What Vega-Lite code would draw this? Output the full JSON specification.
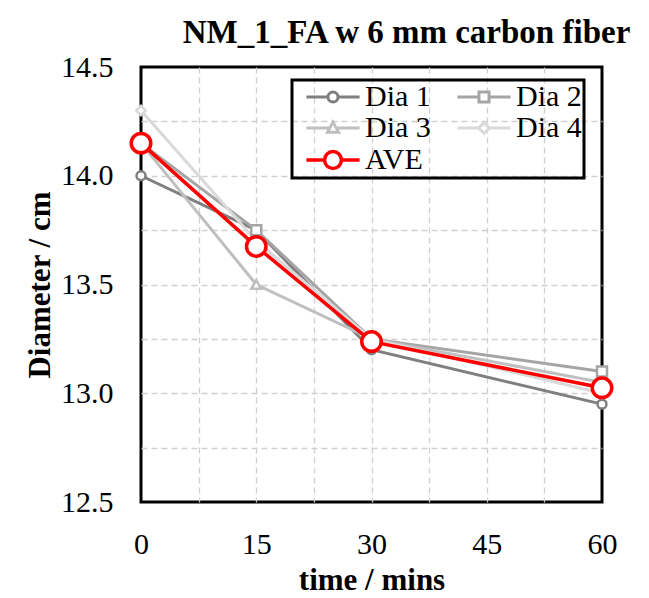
{
  "$schema": "https://vega.github.io/schema/vega-lite/v6.json",
  "autosize": "none",
  "width": 461,
  "height": 435,
  "padding": {"left": 141, "top": 67, "right": 47, "bottom": 96},
  "background": "white",
  "title": {"text": "NM_1_FA w 6 mm carbon fiber", "font": "Liberation Serif", "fontSize": 33, "fontWeight": "bold", "color": "black", "anchor": "middle", "dx": 35, "offset": 2},
  "config": {
    "view": {"stroke": "black", "strokeWidth": 3},
    "axis": {"labelFont": "Liberation Serif", "labelFontSize": 30, "labelColor": "black", "titleFont": "Liberation Serif", "titleFontSize": 31, "titleFontWeight": "bold", "titleColor": "black", "domain": false, "ticks": false, "tickSize": 0, "grid": true, "gridColor": "#d0d0d0", "gridDash": [6, 4], "gridWidth": 1.3, "labelOverlap": false, "labelFlush": false}
  },
  "data": {"values": [
    {"t": 0, "dia": 14.0, "series": "Dia 1"},
    {"t": 15, "dia": 13.75, "series": "Dia 1"},
    {"t": 30, "dia": 13.2, "series": "Dia 1"},
    {"t": 60, "dia": 12.95, "series": "Dia 1"},
    {"t": 0, "dia": 14.15, "series": "Dia 2"},
    {"t": 15, "dia": 13.75, "series": "Dia 2"},
    {"t": 30, "dia": 13.25, "series": "Dia 2"},
    {"t": 60, "dia": 13.1, "series": "Dia 2"},
    {"t": 0, "dia": 14.15, "series": "Dia 3"},
    {"t": 15, "dia": 13.5, "series": "Dia 3"},
    {"t": 30, "dia": 13.25, "series": "Dia 3"},
    {"t": 60, "dia": 13.05, "series": "Dia 3"},
    {"t": 0, "dia": 14.3, "series": "Dia 4"},
    {"t": 15, "dia": 13.7, "series": "Dia 4"},
    {"t": 30, "dia": 13.25, "series": "Dia 4"},
    {"t": 60, "dia": 13.0, "series": "Dia 4"},
    {"t": 0, "dia": 14.15, "series": "AVE"},
    {"t": 15, "dia": 13.675, "series": "AVE"},
    {"t": 30, "dia": 13.2375, "series": "AVE"},
    {"t": 60, "dia": 13.025, "series": "AVE"}
  ]},
  "encoding": {
    "x": {"field": "t", "type": "quantitative", "scale": {"domain": [0, 60], "nice": false, "zero": false},
      "axis": {"title": "time / mins", "values": [0, 7.5, 15, 22.5, 30, 37.5, 45, 52.5, 60], "labelExpr": "datum.value % 15 === 0 ? datum.label : ''", "labelPadding": 27, "titlePadding": 6,
        "gridOpacity": {"condition": {"test": "datum.value === 0 || datum.value === 60", "value": 0}, "value": 1}}},
    "y": {"field": "dia", "type": "quantitative", "scale": {"domain": [12.5, 14.5], "nice": false, "zero": false},
      "axis": {"title": "Diameter / cm", "values": [12.5, 12.75, 13, 13.25, 13.5, 13.75, 14, 14.25, 14.5], "labelExpr": "abs(datum.value*2 - round(datum.value*2)) < 0.001 ? format(datum.value, '.1f') : ''", "labelPadding": 28, "titlePadding": 4,
        "gridOpacity": {"condition": {"test": "datum.value === 12.5 || datum.value === 14.5", "value": 0}, "value": 1}}},
    "stroke": {"field": "series", "type": "nominal",
      "scale": {"domain": ["Dia 1", "Dia 2", "Dia 3", "Dia 4", "AVE"], "range": ["#7f7f7f", "#a5a5a5", "#bfbfbf", "#d9d9d9", "#ff0000"]},
      "legend": {"title": null, "orient": "none", "legendX": 151, "legendY": 13, "columns": 2, "direction": "horizontal", "padding": 2, "strokeColor": "black", "symbolSize": 784, "symbolStrokeWidth": 3, "symbolOffset": 24, "labelOffset": 17, "labelFont": "Liberation Serif", "labelFontSize": 30, "labelColor": "black", "columnPadding": 14, "rowPadding": 1, "symbolFillColor": "white",
        "encode": {
          "legend": {"update": {"strokeWidth": {"value": 3}}},
          "symbols": {"update": {
            "shape": {"signal": "datum.value === 'Dia 1' ? 'M-1.9,0H-0.36M0.36,0H1.9M-0.36,0A0.36,0.36,0,1,1,0.36,0A0.36,0.36,0,1,1,-0.36,0Z' : datum.value === 'Dia 2' ? 'M-1.9,0H-0.36M0.36,0H1.9M-0.36,-0.36H0.36V0.36H-0.36Z' : datum.value === 'Dia 3' ? 'M-1.9,0H-0.3M0.3,0H1.9M0,-0.42L0.4,0.3H-0.4Z' : datum.value === 'Dia 4' ? 'M-1.9,0H-0.38M0.38,0H1.9M0,-0.38L0.38,0L0,0.38L-0.38,0Z' : 'M-1.9,0H-0.6M0.6,0H1.9M-0.6,0A0.6,0.6,0,1,1,0.6,0A0.6,0.6,0,1,1,-0.6,0Z'"},
            "strokeWidth": {"signal": "datum.value === 'AVE' ? 3.5 : 3"},
            "fill": {"value": "white"},
            "opacity": {"value": 1}
          }}
        }}}
  },
  "layer": [
    {"transform": [{"filter": "datum.series !== 'AVE'"}], "mark": {"type": "line", "strokeWidth": 3}, "encoding": {"detail": {"field": "series"}}},
    {"transform": [{"filter": "datum.series === 'Dia 1'"}], "mark": {"type": "point", "shape": "circle", "size": 80, "filled": false, "fill": "white", "strokeWidth": 2.5, "opacity": 1}},
    {"transform": [{"filter": "datum.series === 'Dia 2'"}], "mark": {"type": "point", "shape": "square", "size": 100, "filled": false, "fill": "white", "strokeWidth": 2.5, "opacity": 1}},
    {"transform": [{"filter": "datum.series === 'Dia 3'"}], "mark": {"type": "point", "shape": "triangle-up", "size": 100, "filled": false, "fill": "white", "strokeWidth": 2.5, "opacity": 1}},
    {"transform": [{"filter": "datum.series === 'Dia 4'"}], "mark": {"type": "point", "shape": "diamond", "size": 90, "filled": false, "fill": "white", "strokeWidth": 2.5, "opacity": 1}},
    {"transform": [{"filter": "datum.series === 'AVE'"}], "mark": {"type": "line", "strokeWidth": 3.5}, "encoding": {}},
    {"transform": [{"filter": "datum.series === 'AVE'"}], "mark": {"type": "point", "shape": "circle", "size": 380, "filled": false, "fill": "white", "strokeWidth": 3.5, "opacity": 1}}
  ]
}
